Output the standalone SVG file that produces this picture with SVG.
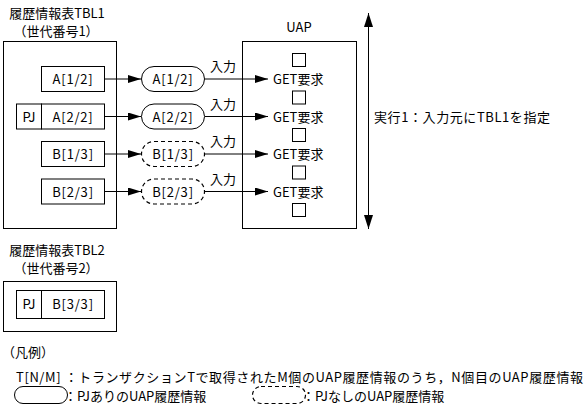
<svg xmlns="http://www.w3.org/2000/svg" width="588" height="420" viewBox="0 0 588 420">
<style>
text{font-family:"Noto Sans CJK JP","Noto Sans",sans-serif;font-size:13px;fill:#000}
.m{text-anchor:middle}
.lbl{letter-spacing:0.8px}
.box{fill:#fff;stroke:#000;stroke-width:1}
.st{fill:#fff;stroke:#000;stroke-width:1}
.ds{fill:#fff;stroke:#000;stroke-width:1.2;stroke-dasharray:4 3}
.ln{stroke:#000;stroke-width:1;fill:none}
</style>
<defs>
<marker id="ah" viewBox="0 0 13 8" refX="13" refY="4" markerWidth="13" markerHeight="8" markerUnits="userSpaceOnUse" orient="auto">
<path d="M0,0L13,4L0,8z" fill="#000"/>
</marker>
<marker id="ah2" viewBox="0 0 14 9" refX="14" refY="4.5" markerWidth="14" markerHeight="9" markerUnits="userSpaceOnUse" orient="auto-start-reverse">
<path d="M0,0L14,4.5L0,9z" fill="#000"/>
</marker>
</defs>

<g id="tbl1">
<text class="m" x="57" y="18">履歴情報表TBL1</text>
<text class="m" x="56" y="36">（世代番号1）</text>
<rect class="box" x="3.5" y="41.5" width="113" height="187"/>
</g>
<g id="uap">
<text class="m" x="299" y="32">UAP</text>
<rect class="box" x="242.5" y="41.5" width="114" height="187"/>
<rect class="box" x="292.5" y="53.5" width="13" height="13"/>
<rect class="box" x="292.5" y="91" width="13" height="13"/>
<rect class="box" x="292.5" y="128.5" width="13" height="13"/>
<rect class="box" x="292.5" y="166" width="13" height="13"/>
<rect class="box" x="292.5" y="203.5" width="13" height="13"/>
<text x="273" y="84">GET要求</text>
<text x="273" y="121.5">GET要求</text>
<text x="273" y="159">GET要求</text>
<text x="273" y="196.5">GET要求</text>
</g>

<g id="connectors">
<line class="ln" x1="105" y1="79" x2="141" y2="79" marker-end="url(#ah)"/>
<line class="ln" x1="105" y1="116.5" x2="141" y2="116.5" marker-end="url(#ah)"/>
<line class="ln" x1="105" y1="154" x2="141" y2="154" marker-end="url(#ah)"/>
<line class="ln" x1="105" y1="191.5" x2="141" y2="191.5" marker-end="url(#ah)"/>
<line class="ln" x1="205" y1="79" x2="268" y2="79" marker-end="url(#ah)"/>
<line class="ln" x1="205" y1="116.5" x2="268" y2="116.5" marker-end="url(#ah)"/>
<line class="ln" x1="205" y1="154" x2="268" y2="154" marker-end="url(#ah)"/>
<line class="ln" x1="205" y1="191.5" x2="268" y2="191.5" marker-end="url(#ah)"/>
<text class="m" x="223" y="71">入力</text>
<text class="m" x="223" y="108.5">入力</text>
<text class="m" x="223" y="146">入力</text>
<text class="m" x="223" y="183.5">入力</text>
<line class="ln" x1="368.5" y1="13" x2="368.5" y2="229" marker-start="url(#ah2)" marker-end="url(#ah2)"/>
</g>
<text x="374" y="122" textLength="176" lengthAdjust="spacing">実行1：入力元にTBL1を指定</text>

<g id="a12">
<rect class="box" x="41.5" y="66.5" width="63" height="25"/>
<text class="m lbl" x="73" y="84">A[1/2]</text>
</g>
<g id="a22">
<rect class="box" x="16.5" y="104" width="25" height="25"/>
<text class="m" x="29" y="121.5">PJ</text>
<rect class="box" x="41.5" y="104" width="63" height="25"/>
<text class="m lbl" x="73" y="121.5">A[2/2]</text>
</g>
<g id="b13">
<rect class="box" x="41.5" y="141.5" width="63" height="25"/>
<text class="m lbl" x="73" y="159">B[1/3]</text>
</g>
<g id="b23">
<rect class="box" x="41.5" y="179" width="63" height="25"/>
<text class="m lbl" x="73" y="196.5">B[2/3]</text>
</g>

<g id="ua12">
<rect class="st" x="141.5" y="66.5" width="63" height="25" rx="12.5"/>
<text class="m lbl" x="173" y="84">A[1/2]</text>
</g>
<g id="ua22">
<rect class="st" x="141.5" y="104" width="63" height="25" rx="12.5"/>
<text class="m lbl" x="173" y="121.5">A[2/2]</text>
</g>
<g id="ub13">
<rect class="ds" x="141.5" y="141.5" width="63" height="25" rx="12.5"/>
<text class="m lbl" x="173" y="159">B[1/3]</text>
</g>
<g id="ub23">
<rect class="ds" x="141.5" y="179" width="63" height="25" rx="12.5"/>
<text class="m lbl" x="173" y="196.5">B[2/3]</text>
</g>

<g id="tbl2">
<text class="m" x="57" y="255">履歴情報表TBL2</text>
<text class="m" x="56" y="273">（世代番号2）</text>
<rect class="box" x="3.5" y="281.5" width="113" height="50"/>
<rect class="box" x="16.5" y="290.5" width="25" height="28"/>
<text class="m" x="29" y="309">PJ</text>
<rect class="box" x="41.5" y="290.5" width="63" height="28"/>
<text class="m lbl" x="73" y="309">B[3/3]</text>
</g>

<g id="legend">
<text x="2" y="357">（凡例）</text>
<text x="16" y="382" textLength="567" lengthAdjust="spacing">T[N/M] ：トランザクションTで取得されたM個のUAP履歴情報のうち，N個目のUAP履歴情報</text>
<rect class="st" x="14.5" y="386.5" width="53" height="17" rx="8.5"/>
<text x="64" y="401">：PJありのUAP履歴情報</text>
<rect class="ds" x="252.5" y="386.5" width="53" height="17" rx="8.5"/>
<text x="302" y="401">：PJなしのUAP履歴情報</text>
</g>
</svg>
